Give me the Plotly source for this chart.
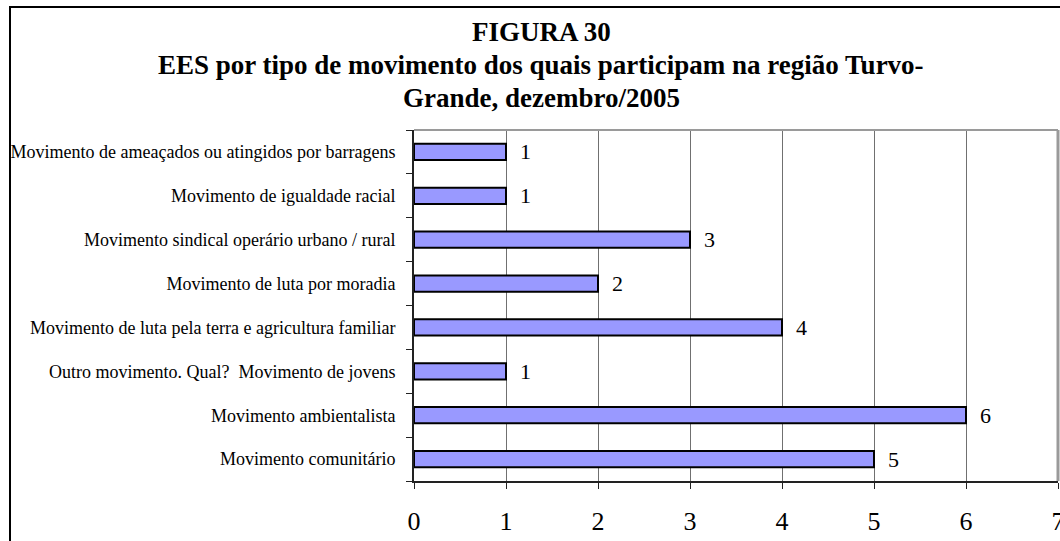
import plotly.graph_objects as go

categories = [
    "Movimento de ameaçados ou atingidos por barragens",
    "Movimento de igualdade racial",
    "Movimento sindical operário urbano / rural",
    "Movimento de luta por moradia",
    "Movimento de luta pela terra e agricultura familiar",
    "Outro movimento. Qual?  Movimento de jovens",
    "Movimento ambientalista",
    "Movimento comunitário",
]
values = [1, 1, 3, 2, 4, 1, 6, 5]
x_ticks = [0, 1, 2, 3, 4, 5, 6, 7]
title_lines = [
    "FIGURA 30",
    "EES por tipo de movimento dos quais participam na região Turvo-",
    "Grande, dezembro/2005",
]

FONT = "Liberation Serif, Times New Roman, serif"
W, H = 1060, 541
L, R, T, B = 414, 2, 130, 60
pw, ph = W - L - R, H - T - B

def px_x(px):
    return (px - L) / pw

def px_y(py):
    return (H - B - py) / ph

fig = go.Figure(go.Bar(
    x=values,
    y=categories,
    orientation="h",
    marker=dict(color="#9999FF", line=dict(color="black", width=2)),
    width=0.37,
    texttemplate="\u00a0\u00a0%{x}",
    textposition="outside",
    constraintext="none",
    textfont=dict(family=FONT, size=22, color="black"),
    cliponaxis=False,
))

fig.update_layout(
    width=W, height=H,
    margin=dict(l=L, r=R, t=T, b=B, pad=0, autoexpand=False),
    paper_bgcolor="white", plot_bgcolor="white",
    showlegend=False,
    font=dict(family=FONT, color="black"),
    xaxis=dict(
        range=[0, 7], tickvals=x_ticks, ticktext=[str(t) for t in x_ticks],
        showgrid=True, gridcolor="#707070", gridwidth=1,
        zeroline=False, showline=True, linecolor="#222222", linewidth=2,
        ticks="outside", ticklen=6, tickcolor="#222222",
        tickfont=dict(family=FONT, size=26, color="black"),
        ticklabelstandoff=10, ticklabeloverflow="allow", automargin=False,
    ),
    yaxis=dict(
        categoryorder="array", categoryarray=categories[::-1],
        showgrid=False, zeroline=False, showline=True, linecolor="#222222", linewidth=2,
        ticks="outside", ticklen=6, tickcolor="#222222", tickson="boundaries",
        tickfont=dict(family=FONT, size=18, color="black"),
        ticklabelstandoff=13, automargin=False,
    ),
    shapes=[
        dict(type="line", xref="paper", yref="paper", x0=0, x1=1, y0=1, y1=1,
             line=dict(color="#9a9a9a", width=2)),
        dict(type="line", xref="paper", yref="paper", x0=1, x1=1, y0=0, y1=1,
             line=dict(color="#9a9a9a", width=3)),
        dict(type="rect", xref="paper", yref="paper",
             x0=px_x(10), x1=px_x(1075), y0=px_y(7), y1=px_y(560),
             line=dict(color="black", width=2)),
    ],
)

for line, py in zip(title_lines, [32, 65, 98]):
    fig.add_annotation(
        text=f"<b>{line}</b>", xref="paper", yref="paper",
        x=px_x(541), y=px_y(py), xanchor="center", yanchor="middle",
        showarrow=False, font=dict(family=FONT, size=27, color="black"),
    )

fig.write_html("out.html", config={"displayModeBar": False},
               post_script="document.body.style.margin='0';")
